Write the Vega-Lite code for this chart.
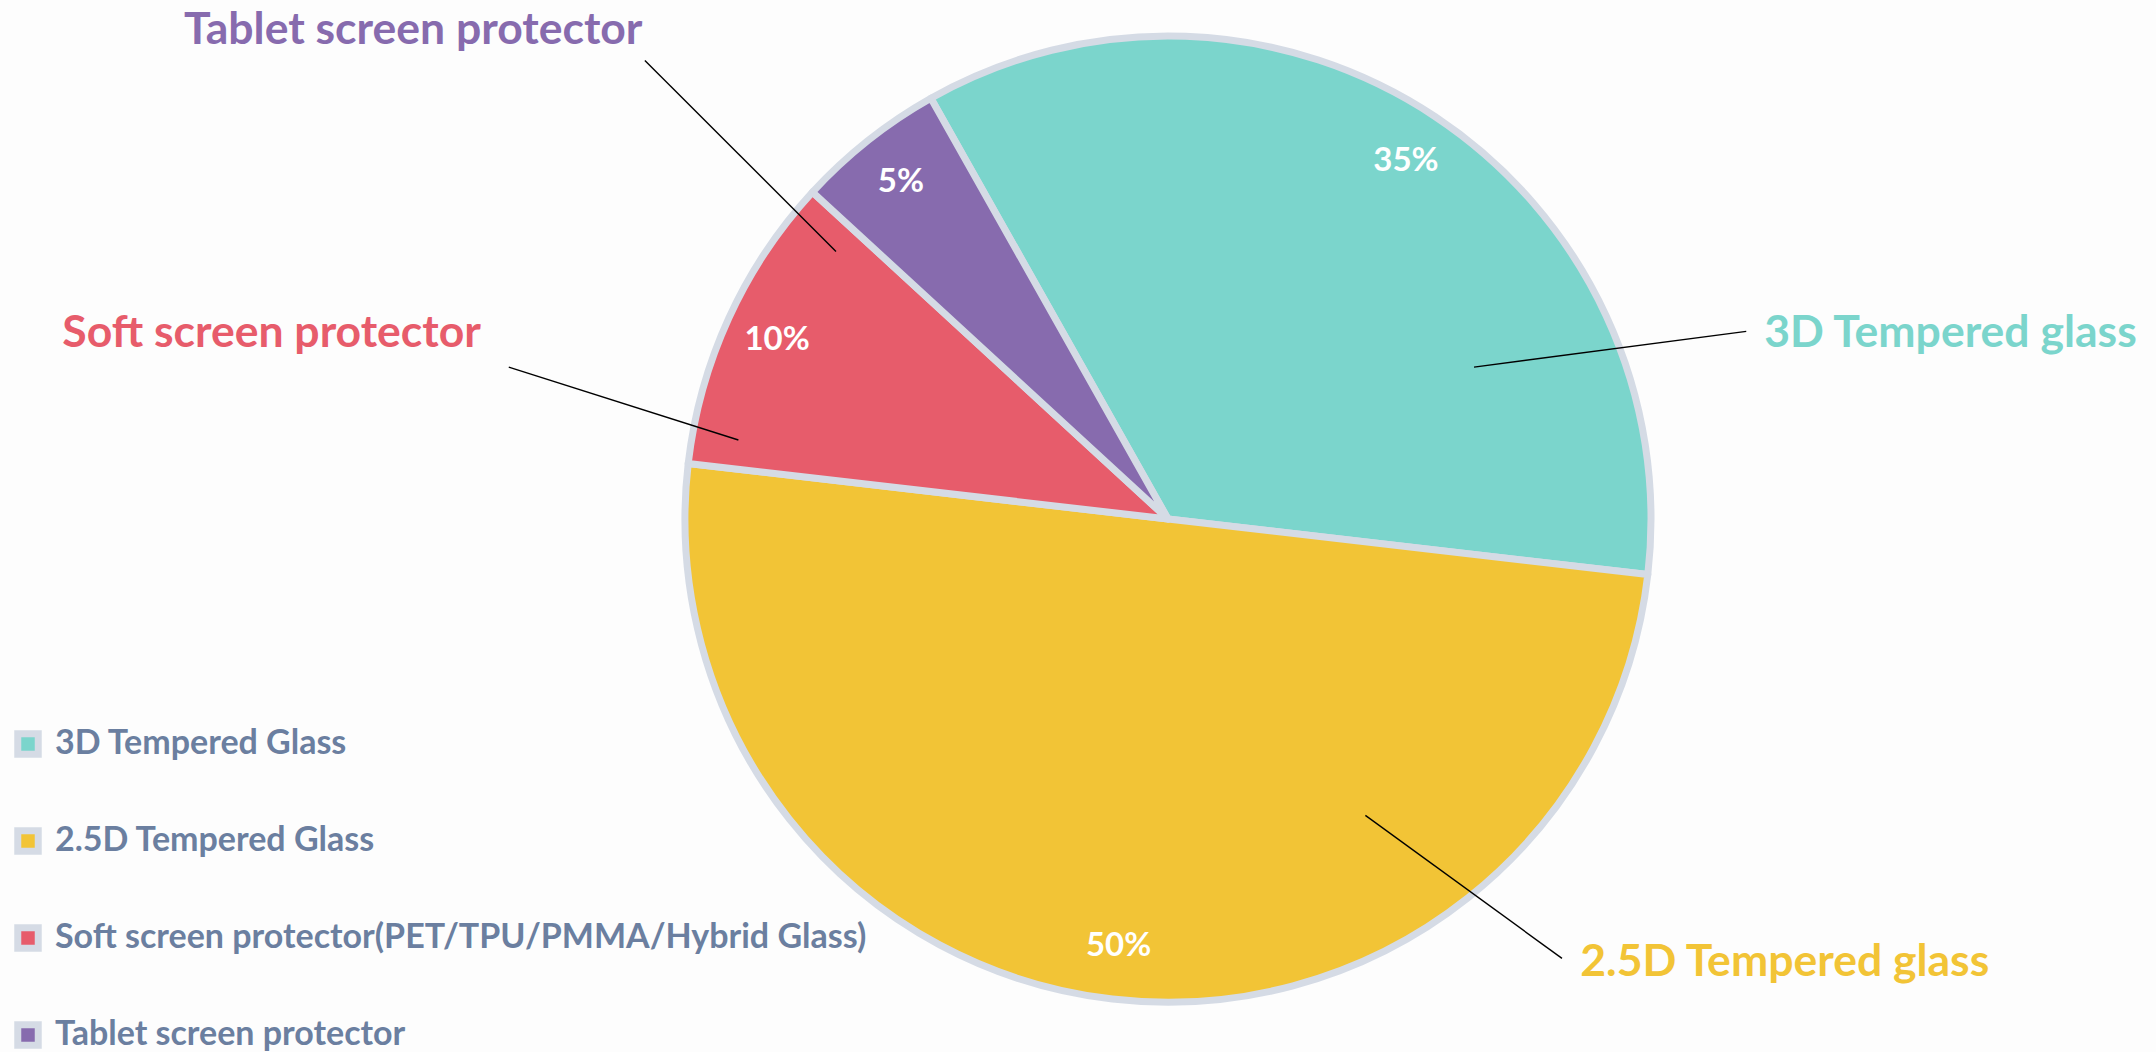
{
  "$schema": "https://vega.github.io/schema/vega-lite/v6.json",
  "width": 2156,
  "height": 1052,
  "autosize": {"type": "fit", "contains": "padding"},
  "padding": 0,
  "background": "#fdfdfd",
  "config": {
    "view": {"stroke": null},
    "font": "Lato",
    "legend": {
      "orient": "none",
      "legendX": 11,
      "legendY": 727,
      "title": null,
      "labelFont": "Lato",
      "labelFontSize": 34,
      "labelFontWeight": "bold",
      "labelColor": "#6b7fa0",
      "labelLimit": 0,
      "labelOffset": 10,
      "symbolType": "square",
      "symbolSize": 420,
      "symbolStrokeColor": "#d5dbe5",
      "symbolStrokeWidth": 7,
      "symbolOpacity": 1,
      "rowPadding": 47
    }
  },
  "data": {
    "values": [
      {"category": "3D Tempered Glass", "label": "3D Tempered glass", "value": 0.35, "ord": 1, "lx": 1.6300, "ly": 0.3852, "x1": 0.6375, "y1": 0.3165, "x2": 1.2047, "y2": 0.3908},
      {"category": "2.5D Tempered Glass", "label": "2.5D Tempered glass", "value": 0.50, "ord": 2, "lx": 1.2849, "ly": -0.9240, "x1": 0.4112, "y1": -0.6175, "x2": 0.8208, "y2": -0.9154},
      {"category": "Soft screen protector(PET/TPU/PMMA/Hybrid Glass)", "label": "Soft screen protector", "value": 0.10, "ord": 3, "lx": -1.8675, "ly": 0.3852, "x1": -0.8950, "y1": 0.1646, "x2": -1.3734, "y2": 0.3165},
      {"category": "Tablet screen protector", "label": "Tablet screen protector", "value": 0.05, "ord": 4, "lx": -1.5725, "ly": 1.0170, "x1": -0.6917, "y1": 0.5571, "x2": -1.0898, "y2": 0.9552}
    ]
  },
  "layer": [
    {
      "mark": {"type": "arc", "outerRadius": 483, "stroke": "#d5dbe5", "strokeWidth": 7, "strokeJoin": "round"},
      "encoding": {
        "theta": {"field": "value", "type": "quantitative", "stack": true, "scale": {"range": [-0.5131, 5.7701]}},
        "order": {"field": "ord", "type": "quantitative"},
        "color": {
          "field": "category",
          "type": "nominal",
          "scale": {
            "domain": ["3D Tempered Glass", "2.5D Tempered Glass", "Soft screen protector(PET/TPU/PMMA/Hybrid Glass)", "Tablet screen protector"],
            "range": ["#7bd5cc", "#f2c436", "#e75c6b", "#876bae"]
          }
        },
        "x": {"datum": 0, "type": "quantitative", "scale": {"domain": [-2.4333, 2.0583], "nice": false, "zero": false}, "axis": null},
        "y": {"datum": 0, "type": "quantitative", "scale": {"domain": [-1.1104, 1.08125], "nice": false, "zero": false}, "axis": null}
      }
    },
    {
      "mark": {"type": "rule", "color": "#000000", "strokeWidth": 1.4},
      "encoding": {
        "x": {"field": "x1", "type": "quantitative", "scale": {"domain": [-2.4333, 2.0583], "nice": false, "zero": false}, "axis": null},
        "y": {"field": "y1", "type": "quantitative", "scale": {"domain": [-1.1104, 1.08125], "nice": false, "zero": false}, "axis": null},
        "x2": {"field": "x2"},
        "y2": {"field": "y2"}
      }
    },
    {
      "mark": {"type": "text", "radius": 430, "fontSize": 33, "fontWeight": "bold", "font": "Lato", "color": "#ffffff", "align": "center", "baseline": "middle"},
      "encoding": {
        "theta": {"field": "value", "type": "quantitative", "stack": true, "scale": {"range": [-0.5131, 5.7701]}},
        "order": {"field": "ord", "type": "quantitative"},
        "text": {"field": "value", "type": "quantitative", "format": ".0%"},
        "x": {"datum": 0, "type": "quantitative", "scale": {"domain": [-2.4333, 2.0583], "nice": false, "zero": false}, "axis": null},
        "y": {"datum": 0, "type": "quantitative", "scale": {"domain": [-1.1104, 1.08125], "nice": false, "zero": false}, "axis": null}
      }
    },
    {
      "mark": {"type": "text", "fontSize": 44.5, "fontWeight": "bold", "font": "Lato", "align": "center", "baseline": "middle"},
      "encoding": {
        "text": {"field": "label", "type": "nominal"},
        "color": {"field": "category", "type": "nominal"},
        "x": {"field": "lx", "type": "quantitative", "scale": {"domain": [-2.4333, 2.0583], "nice": false, "zero": false}, "axis": null},
        "y": {"field": "ly", "type": "quantitative", "scale": {"domain": [-1.1104, 1.08125], "nice": false, "zero": false}, "axis": null}
      }
    }
  ]
}
